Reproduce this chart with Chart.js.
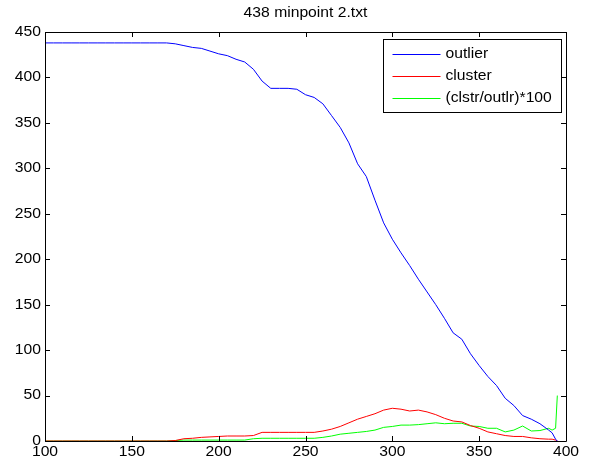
<!DOCTYPE html>
<html>
<head>
<meta charset="utf-8">
<script src="https://cdn.jsdelivr.net/npm/chart.js@4.4.1/dist/chart.umd.min.js"></script>
<style>
  html, body { margin: 0; padding: 0; background: #fff; }
  #wrap { width: 590px; height: 463px; }
</style>
</head>
<body>
<div id="wrap"><canvas id="chart1" width="590" height="463"></canvas></div>
<script>
const xValues = [100, 105, 110, 115, 120, 125, 130, 135, 140, 145, 150, 155, 160, 165, 170,
  175, 180, 185, 190, 195, 200, 205, 210, 215, 220, 225, 230, 235, 240, 245, 250, 255,
  260, 265, 270, 275, 280, 285, 290, 295, 300, 305, 310, 315, 320, 325, 330, 335, 340,
  345, 350, 355, 360, 365, 370, 375, 380, 385, 390, 392, 394, 395];

const outlier = [438, 438, 438, 438, 438, 438, 438, 438, 438, 438, 438, 438, 438, 438, 438,
  437, 435, 433, 432, 429, 426, 424, 420, 417, 409, 396, 388, 388, 388, 387, 381, 378,
  371, 358, 345, 328, 305, 291, 265, 240, 222, 207, 193, 178, 164, 150, 135, 119, 112,
  96, 83, 71, 61, 47, 39, 28, 24, 19, 12, 9, 2, 0];

const cluster = [0, 0, 0, 0, 0, 0, 0, 0, 0, 0, 0, 0, 0, 0, 0,
  0.5, 2.5, 3, 4, 4.5, 5, 5.5, 5.5, 5.5, 6, 9.5, 9.5, 9.5, 9.5, 9.5, 9.5, 9.5,
  11, 13, 16, 20, 24, 27, 30, 34, 36, 35, 33, 34, 32, 29, 25, 22, 21,
  17, 14, 10, 8, 6, 5, 5, 3.5, 2.5, 2, 2, 1, 0];

const ratio = [0, 0, 0, 0, 0, 0, 0, 0, 0, 0, 0, 0, 0, 0, 0,
  0.5, 1, 1, 1, 1, 1, 1, 1, 1, 2.5, 3, 3, 3, 3, 3, 3, 3,
  4, 5.5, 7.5, 8.5, 9.5, 10.5, 12, 15, 16, 17.5, 17.5, 18, 19, 20, 19, 19.5, 19.5,
  16.5, 16, 14, 14, 10, 12, 16.5, 11, 11.5, 14, 12, 14, 50];

const seriesNames = ["outlier", "cluster", "(clstr/outlr)*100"];
const seriesColors = ["#0000ff", "#ff0000", "#00ff00"];
const xTicks = [100, 150, 200, 250, 300, 350, 400];
const yTicks = [0, 50, 100, 150, 200, 250, 300, 350, 400, 450];
const titleText = "438 minpoint 2.txt";

const FONT = "14px Liberation Sans, Arial, sans-serif";
const STRETCH = 1.12; // the figure text is a bit wide

function toPoints(ys) {
  return xValues.map((x, i) => ({ x: x, y: ys[i] }));
}

// text drawn a little wider than the font, like the saved figure
function wideText(ctx, txt, x, y, align) {
  const w = ctx.measureText(txt).width * STRETCH;
  let left = x;
  if (align === "center") left = x - w / 2;
  else if (align === "right") left = x - w;
  ctx.save();
  ctx.translate(left, y);
  ctx.scale(STRETCH, 1);
  ctx.textAlign = "left";
  ctx.fillText(txt, 0, 0);
  ctx.restore();
}

// matlab style box, inward ticks, labels, title and legend
const matlabFrame = {
  id: "matlabFrame",
  afterDraw(chart) {
    const ctx = chart.ctx;
    const a = chart.chartArea;
    const xs = chart.scales.x;
    const ys = chart.scales.y;
    ctx.save();
    ctx.strokeStyle = "#000";
    ctx.lineWidth = 1;
    ctx.beginPath();
    ctx.rect(Math.round(a.left) + 0.5, Math.round(a.top) + 0.5,
      Math.round(a.right - a.left), Math.round(a.bottom - a.top));
    ctx.stroke();
    const tl = 5;
    ctx.beginPath();
    xTicks.forEach((v) => {
      const px = Math.round(xs.getPixelForValue(v)) + 0.5;
      ctx.moveTo(px, a.bottom); ctx.lineTo(px, a.bottom - tl);
      ctx.moveTo(px, a.top); ctx.lineTo(px, a.top + tl);
    });
    yTicks.forEach((v) => {
      const py = Math.round(ys.getPixelForValue(v)) + 0.5;
      ctx.moveTo(a.left, py); ctx.lineTo(a.left + tl, py);
      ctx.moveTo(a.right, py); ctx.lineTo(a.right - tl, py);
    });
    ctx.stroke();

    ctx.fillStyle = "#000";
    ctx.font = FONT;
    ctx.textBaseline = "middle";
    xTicks.forEach((v) => {
      wideText(ctx, String(v), xs.getPixelForValue(v), a.bottom + 11, "center");
    });
    yTicks.forEach((v) => {
      wideText(ctx, String(v), a.left - 4, ys.getPixelForValue(v), "right");
    });

    // title
    wideText(ctx, titleText, (a.left + a.right) / 2, 13, "center");

    // legend
    const lx = 383.5, ly = 39.5, lw = 178, lh = 73;
    ctx.fillStyle = "#fff";
    ctx.fillRect(lx, ly, lw, lh);
    ctx.strokeStyle = "#000";
    ctx.strokeRect(lx, ly, lw, lh);
    chart.data.datasets.forEach((ds, i) => {
      const y = ly + 15 + i * 22;
      ctx.strokeStyle = ds.borderColor;
      ctx.beginPath();
      ctx.moveTo(lx + 9, y);
      ctx.lineTo(lx + 57, y);
      ctx.stroke();
      ctx.fillStyle = "#000";
      wideText(ctx, ds.label, lx + 62, y, "left");
    });
    ctx.restore();
  }
};

new Chart(document.getElementById("chart1").getContext("2d"), {
  type: "line",
  data: {
    datasets: [outlier, cluster, ratio].map((ys, i) => ({
      label: seriesNames[i],
      data: toPoints(ys),
      borderColor: seriesColors[i],
      borderWidth: 1,
      pointRadius: 0,
      tension: 0,
      fill: false,
    })),
  },
  options: {
    responsive: false,
    animation: false,
    layout: { padding: { top: 32, right: 24, left: 0, bottom: 0 } },
    plugins: {
      legend: { display: false },
      title: { display: false },
      tooltip: { enabled: false },
    },
    scales: {
      x: {
        type: "linear",
        min: 100,
        max: 400,
        grid: { display: false, drawTicks: false },
        border: { display: false },
        afterFit: (s) => { s.height = 22; },
        afterBuildTicks: (s) => { s.ticks = xTicks.map((v) => ({ value: v })); },
        ticks: { display: false },
      },
      y: {
        min: 0,
        max: 450,
        grid: { display: false, drawTicks: false },
        border: { display: false },
        afterFit: (s) => { s.width = 45; },
        afterBuildTicks: (s) => { s.ticks = yTicks.map((v) => ({ value: v })); },
        ticks: { display: false },
      },
    },
  },
  plugins: [matlabFrame],
});
</script>
</body>
</html>
